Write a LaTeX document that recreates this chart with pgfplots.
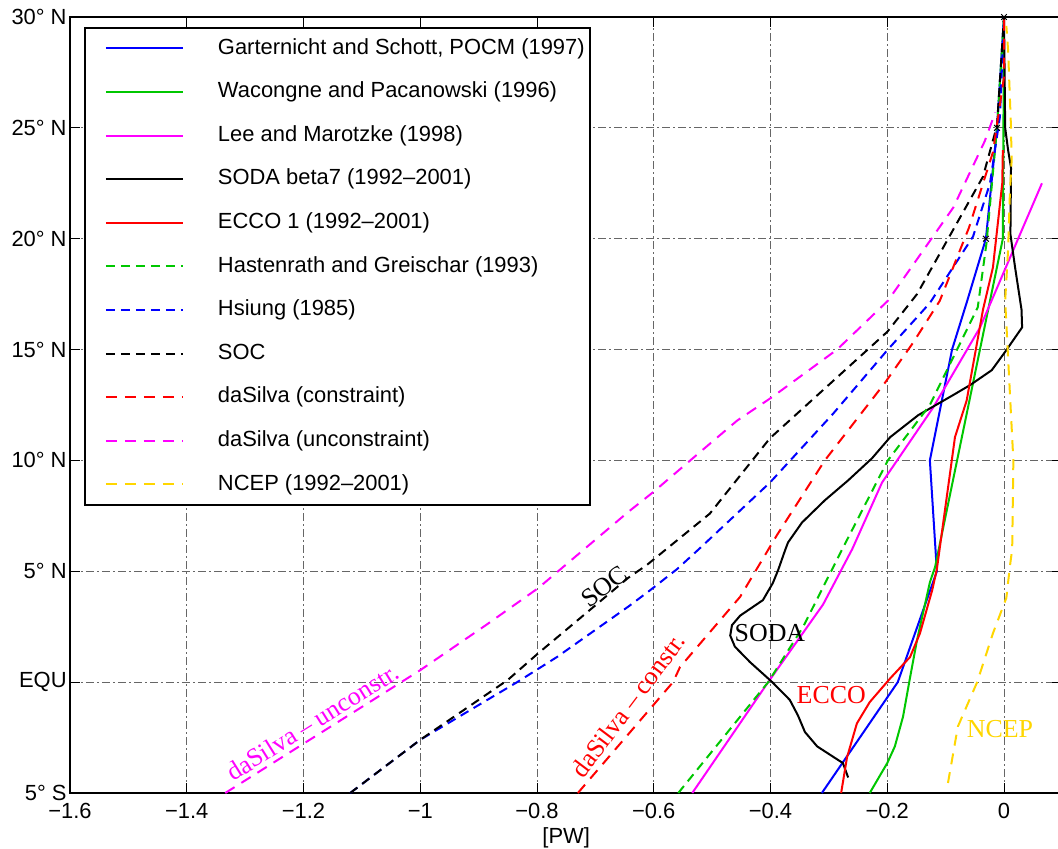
\documentclass[border=0pt]{standalone}
\usepackage{pgfplots}
\pgfplotsset{compat=1.18}
\usepackage{fontspec}
\setmainfont{Liberation Sans}
\newfontfamily\serif{Liberation Serif}
\definecolor{mgreen}{rgb}{0,0.78,0}
\definecolor{ncep}{rgb}{1,0.84,0}
\definecolor{mag}{rgb}{1,0,1}
\begin{document}
\begin{tikzpicture}
\begin{axis}[
  scale only axis, width=496.19bp, height=388bp,
  xmin=-1.6, xmax=0.1, ymin=-5, ymax=30,
  xtick={-1.6,-1.4,-1.2,-1,-0.8,-0.6,-0.4,-0.2,0},
  xticklabels={−1.6,−1.4,−1.2,−1,−0.8,−0.6,−0.4,−0.2,0},
  ytick={-5,0,5,10,15,20,25,30},
  yticklabels={5° S,EQU,5° N,10° N,15° N,20° N,25° N,30° N},
  tick align=inside, major tick length=5bp,
  tick style={black, line width=0.5bp},
  axis line style={line width=1bp},
  grid=major,
  major grid style={black!60, line width=0.5bp, dash pattern=on 4bp off 1.5bp on 1bp off 1.5bp},
  tick label style={font=\fontsize{11}{13}\selectfont},
  xticklabel style={yshift=-1.5bp},
  yticklabel style={inner sep=1.5bp},
  xlabel={[PW]},
  label style={font=\fontsize{11}{13}\selectfont},
  xlabel style={yshift=2.5bp},
  legend cell align=left,
  legend style={at={(0,1)}, anchor=north west, xshift=7bp, yshift=-5bp,
    draw=black, line width=1bp, fill=white,
    font=\fontsize{11}{13}\selectfont,
    inner xsep=2.5bp, inner ysep=5bp, row sep=11.5bp,
    nodes={inner sep=0pt, text height=8bp, text depth=2.3bp}},
  legend image code/.code={\draw[#1, line width=1bp] (8bp,0bp) -- (46.5bp,0bp); \path[draw=none, fill=none, use as bounding box] (0bp,-0.5bp) rectangle (64bp,0.5bp);},
  every axis plot/.append style={line width=1bp},
]
% Garternicht and Schott
\addplot[blue] coordinates {(-0.312,-5) (-0.182,0) (-0.115,5) (-0.127,10) (-0.089,15) (-0.063,17.2) (-0.031,20) (-0.012,25) (0,30)};
\addlegendentry{Garternicht and Schott, POCM (1997)}
% Wacongne and Pacanowski
\addplot[mgreen] coordinates {(-0.23,-5) (-0.2,-3.65) (-0.187,-2.9) (-0.173,-1.56) (-0.161,0.2) (-0.149,1.9) (-0.127,4.5) (-0.118,5.2) (-0.024,17.2) (-0.002,20) (0,30)};
\addlegendentry{Wacongne and Pacanowski (1996)}
% Lee and Marotzke
\addplot[mag] coordinates {(-0.534,-5) (-0.404,0) (-0.31,3.5) (-0.26,6) (-0.209,9) (-0.121,12.4) (-0.041,16) (0.065,22.5)};
\addlegendentry{Lee and Marotzke (1998)}
% SODA
\addplot[black] coordinates {(-0.267,-4.3) (-0.276,-3.65) (-0.32,-2.9) (-0.341,-2.25) (-0.353,-1.5) (-0.367,-0.8) (-0.397,0) (-0.435,0.9) (-0.461,1.6) (-0.469,2.1) (-0.466,2.57) (-0.452,3.0) (-0.413,3.7) (-0.396,4.47) (-0.387,5.05) (-0.375,5.95) (-0.37,6.3) (-0.346,7.2) (-0.307,8.2) (-0.267,9.1) (-0.226,10.1) (-0.195,11.05) (-0.147,12.04) (-0.087,12.95) (-0.058,13.4) (-0.021,14.07) (0.002,14.9) (0.031,16.0) (0.03,16.8) (0.019,18.7) (0.011,20.2) (0.012,23.2) (0.007,24) (0.002,25) (0,30)};
\addlegendentry{SODA beta7 (1992–2001)}
% ECCO
\addplot[red] coordinates {(-0.279,-5) (-0.269,-3.4) (-0.252,-1.86) (-0.23,-0.9) (-0.195,0.17) (-0.161,1.13) (-0.144,2.2) (-0.123,4.15) (-0.115,5.1) (-0.084,11.05) (-0.064,12.7) (-0.036,16.8) (-0.019,18.7) (-0.003,22.5) (-0.002,24)};
\addlegendentry{ECCO 1 (1992–2001)}
% Hastenrath and Greischar
\addplot[mgreen, dash pattern=on 4.5bp off 3bp] coordinates {(-0.558,-5) (-0.404,0) (-0.344,2.5) (-0.278,5.95) (-0.199,10) (-0.127,12.5) (-0.045,16.9) (-0.03,19.8) (-0.012,25) (0,30)};
\addlegendentry{Hastenrath and Greischar (1993)}
% Hsiung
\addplot[blue, dash pattern=on 4.5bp off 3bp] coordinates {(-1.12,-5) (-1.0,-2.6) (-0.834,0) (-0.766,1.13) (-0.644,3.4) (-0.606,4.15) (-0.56,5.1) (-0.521,6.04) (-0.401,9.0) (-0.293,12.1) (-0.199,15.0) (-0.127,17.1) (-0.053,20.1) (-0.024,22.5) (-0.007,25.5) (0,30)};
\addlegendentry{Hsiung (1985)}
% SOC
\addplot[black, dash pattern=on 4.5bp off 3bp] coordinates {(-1.12,-5) (-1.0,-2.6) (-0.85,0.1) (-0.798,1.3) (-0.644,4.7) (-0.612,5.28) (-0.504,7.6) (-0.401,11.0) (-0.2,15.8) (-0.149,17.5) (-0.036,22.8) (-0.012,25.1) (0,30)};
\addlegendentry{SOC}
% daSilva constraint
\addplot[red, dash pattern=on 5.5bp off 4bp] coordinates {(-0.73,-5) (-0.567,0) (-0.555,0.68) (-0.452,3.85) (-0.389,6.63) (-0.307,10) (-0.204,13.5) (-0.156,15.3) (-0.11,17.2) (-0.06,20.5) (-0.019,23.9) (0,27.3) (0,30)};
\addlegendentry{daSilva (constraint)}
% daSilva unconstraint
\addplot[mag, dash pattern=on 5.5bp off 4bp] coordinates {(-1.334,-5) (-1.0,0.54) (-0.886,2.6) (-0.798,4.24) (-0.644,7.67) (-0.601,8.57) (-0.521,10.37) (-0.457,11.8) (-0.397,12.86) (-0.286,15.0) (-0.199,17.2) (-0.087,21.4) (-0.033,24.4) (-0.015,25.7)};
\addlegendentry{daSilva (unconstraint)}
% NCEP
\addplot[ncep, dash pattern=on 5.5bp off 4bp] coordinates {(-0.096,-4.55) (-0.079,-2.0) (-0.046,0) (-0.019,2.2) (0.004,3.8) (0.01,5.2) (0.014,6) (0.016,10) (0.009,13.6) (0.002,17.2) (0.007,19.5) (0.01,22) (0.013,23.5) (0.012,25) (0.007,28.5) (0.004,29.6)};
\addlegendentry{NCEP (1992–2001)}
\addplot[only marks, mark=x, mark size=2bp, black, line width=0.5bp, forget plot] coordinates {(-0.031,20) (-0.012,25) (0,30)};
% annotations
\node[rotate=37, font=\serif\fontsize{13}{15}\selectfont] at (axis cs:-0.685,4.33) {SOC};
\node[font=\serif\fontsize{13}{15}\selectfont] at (axis cs:-0.401,2.21) {SODA};
\node[font=\serif\fontsize{13}{15}\selectfont, text=red] at (axis cs:-0.296,-0.59) {ECCO};
\node[font=\serif\fontsize{13}{15}\selectfont, text=ncep] at (axis cs:-0.007,-2.12) {NCEP};
\node[rotate=53, font=\serif\fontsize{13}{15}\selectfont, text=red] at (axis cs:-0.644,-1.04) {daSilva – constr.};
\node[rotate=32, font=\serif\fontsize{13}{15}\selectfont, text=mag] at (axis cs:-1.185,-1.8) {daSilva – unconstr.};
\end{axis}
\pgfresetboundingbox
\path ([shift={(-35bp,-28bp)}]current axis.south west) rectangle ([shift={(-2.19bp,8.5bp)}]current axis.north east);
\end{tikzpicture}
\end{document}
